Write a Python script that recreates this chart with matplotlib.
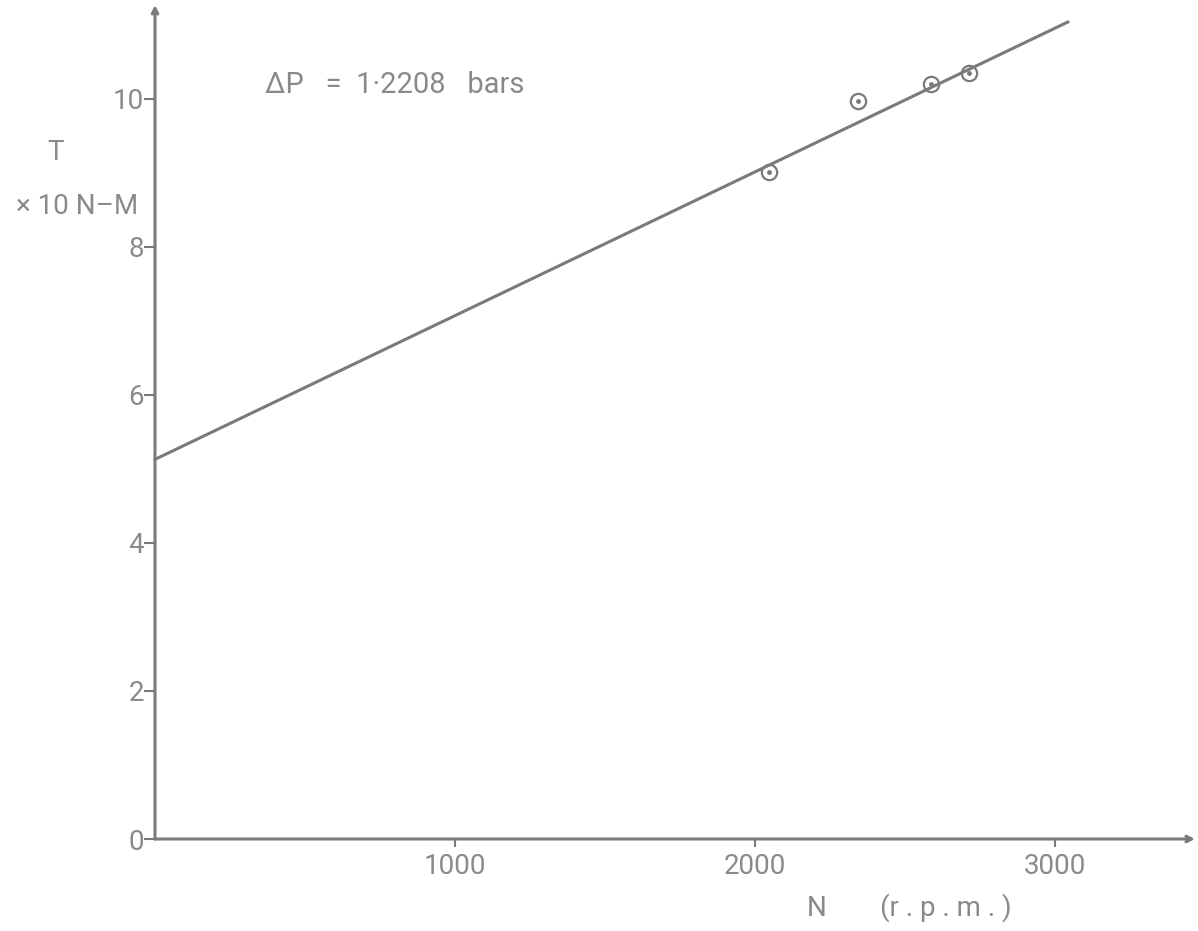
import matplotlib
matplotlib.use("Agg")
import matplotlib.pyplot as plt

plt.rcParams['font.family'] = ['Roboto', 'DejaVu Sans']

# data
speed_rpm = [2047, 2343, 2587, 2713]
torque = [9.01, 9.97, 10.2, 10.35]
fit_x = [0, 3043]
fit_y = [5.13, 11.04]
x_ticks = [1000, 2000, 3000]
y_ticks = [0, 2, 4, 6, 8, 10]

XMAX, YMAX = 3467, 11.27
gray = '#7a7a7a'
tgray = '#8a8a8a'
FS = 21

fig = plt.figure(figsize=(11.98, 9.31), dpi=100)
ax = fig.add_axes([155/1198, 92/931, (1195-155)/1198, (839-5)/931])
ax.set_xlim(0, XMAX)
ax.set_ylim(0, YMAX)
for s in ax.spines.values():
    s.set_visible(False)

# axes with arrows
ax.annotate('', xy=(XMAX, 0), xytext=(0, 0), xycoords='data',
            arrowprops=dict(arrowstyle='->', color=gray, lw=2.2, shrinkA=0, shrinkB=0),
            annotation_clip=False)
ax.annotate('', xy=(0, YMAX), xytext=(0, 0), xycoords='data',
            arrowprops=dict(arrowstyle='->', color=gray, lw=2.2, shrinkA=0, shrinkB=0),
            annotation_clip=False)

ax.plot(fit_x, fit_y, color=gray, lw=2.2, clip_on=False)
ax.plot(speed_rpm, torque, linestyle='none', marker='o', markersize=11,
        markerfacecolor='none', markeredgecolor=gray, markeredgewidth=1.6, clip_on=False)
ax.plot(speed_rpm, torque, linestyle='none', marker='o', markersize=2.5,
        color=gray, clip_on=False)

ax.set_xticks(x_ticks)
ax.set_xticklabels([str(v) for v in x_ticks])
ax.set_yticks(y_ticks)
ax.set_yticklabels([str(v) for v in y_ticks])
ax.tick_params(axis='x', direction='out', length=6, width=1.5, color=gray,
               labelcolor=tgray, labelsize=FS - 1, pad=4)
ax.tick_params(axis='y', direction='out', length=8, width=1.5, color=gray,
               labelcolor=tgray, labelsize=FS - 1, pad=0)

fig.text(56/1198, 1 - 153/931, 'T', fontsize=FS - 1, color=tgray, ha='center', va='center')
fig.text(77/1198, 1 - 207/931, '× 10 N–M', fontsize=FS - 1, color=tgray, ha='center', va='center')
fig.text(817/1198, 1 - 908/931, 'N', fontsize=FS - 1, color=tgray, ha='center', va='center')
fig.text(946/1198, 1 - 908/931, '(r . p . m . )', fontsize=FS - 1, color=tgray,
         ha='center', va='center')
fig.text(265/1198, 1 - 85/931, 'ΔP   =  1·2208   bars', fontsize=FS, color=tgray,
         ha='left', va='center')

fig.savefig('out.png', dpi=100, facecolor='white')
